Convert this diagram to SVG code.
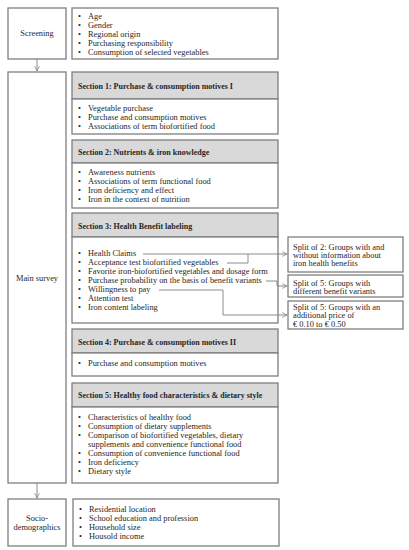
<svg xmlns="http://www.w3.org/2000/svg" width="409" height="550" viewBox="0 0 409 550">
<defs>
<style>
.box{fill:#fff;stroke:#7f7f7f;stroke-width:1.3}
.hdr{fill:#d9d9d9;stroke:#7f7f7f;stroke-width:1.3}
text{font-family:"Liberation Serif",serif;font-size:8.4px;fill:#262626}
.b{font-weight:bold;font-size:8px}
.m{text-anchor:middle}
.ln{fill:none;stroke:#7f7f7f;stroke-width:0.9}
</style>
<marker id="ah" viewBox="0 0 10 10" refX="9" refY="5" markerWidth="6" markerHeight="6" orient="auto" markerUnits="userSpaceOnUse">
<path d="M1,1 L9,5 L1,9" fill="none" stroke="#7f7f7f" stroke-width="1.2"/>
</marker>
</defs>
<rect width="409" height="550" fill="#fff"/>

<g id="screening">
<rect class="box" x="8" y="8" width="58" height="51"/>
<text class="m" x="37" y="36">Screening</text>
</g>
<g id="screening-items">
<rect class="box" x="72" y="8" width="206" height="51"/>
<text x="78" y="19">•</text><text x="88" y="19">Age</text>
<text x="78" y="28">•</text><text x="88" y="28">Gender</text>
<text x="78" y="37">•</text><text x="88" y="37">Regional origin</text>
<text x="78" y="46">•</text><text x="88" y="46">Purchasing responsibility</text>
<text x="78" y="55">•</text><text x="88" y="55">Consumption of selected vegetables</text>
</g>

<g id="main-survey">
<rect class="box" x="8" y="72" width="58" height="411"/>
<text class="m" x="37" y="281">Main survey</text>
</g>

<g id="section1">
<rect class="hdr" x="72" y="72" width="206" height="27"/>
<rect class="box" x="72" y="99" width="206" height="35"/>
<text class="b" x="78" y="89">Section 1: Purchase &amp; consumption motives I</text>
<text x="78" y="111">•</text><text x="88" y="111">Vegetable purchase</text>
<text x="78" y="120">•</text><text x="88" y="120">Purchase and consumption motives</text>
<text x="78" y="129">•</text><text x="88" y="129">Associations of term biofortified food</text>
</g>

<g id="section2">
<rect class="hdr" x="72" y="140" width="206" height="23"/>
<rect class="box" x="72" y="163" width="206" height="45"/>
<text class="b" x="78" y="155">Section 2: Nutrients &amp; iron knowledge</text>
<text x="78" y="175">•</text><text x="88" y="175">Awareness nutrients</text>
<text x="78" y="184">•</text><text x="88" y="184">Associations of term functional food</text>
<text x="78" y="193">•</text><text x="88" y="193">Iron deficiency and effect</text>
<text x="78" y="202">•</text><text x="88" y="202">Iron in the context of nutrition</text>
</g>

<g id="section3">
<rect class="hdr" x="72" y="213" width="206" height="24"/>
<rect class="box" x="72" y="237" width="206" height="86"/>
<text class="b" x="78" y="229">Section 3: Health Benefit labeling</text>
<text x="78" y="256">•</text><text x="88" y="256">Health Claims</text>
<text x="78" y="265">•</text><text x="88" y="265">Acceptance  test biofortified vegetables</text>
<text x="78" y="274">•</text><text x="88" y="274">Favorite iron-biofortified vegetables and dosage form</text>
<text x="78" y="283">•</text><text x="88" y="283">Purchase probability on the basis of benefit variants</text>
<text x="78" y="292">•</text><text x="88" y="292">Willingness to pay</text>
<text x="78" y="301">•</text><text x="88" y="301">Attention test</text>
<text x="78" y="310">•</text><text x="88" y="310">Iron content labeling</text>
</g>

<g id="section4">
<rect class="hdr" x="72" y="329" width="206" height="24"/>
<rect class="box" x="72" y="353" width="206" height="23"/>
<text class="b" x="78" y="345">Section 4: Purchase &amp; consumption motives II</text>
<text x="78" y="366">•</text><text x="88" y="366">Purchase and consumption motives</text>
</g>

<g id="section5">
<rect class="hdr" x="72" y="383" width="206" height="24"/>
<rect class="box" x="72" y="407" width="206" height="76"/>
<text class="b" x="78" y="398">Section 5: Healthy food characteristics &amp; dietary style</text>
<text x="78" y="420">•</text><text x="88" y="420">Characteristics of healthy food</text>
<text x="78" y="429">•</text><text x="88" y="429">Consumption of dietary supplements</text>
<text x="78" y="438">•</text><text x="88" y="438">Comparison of biofortified vegetables, dietary</text>
<text x="88" y="447">supplements and convenience functional food</text>
<text x="78" y="456">•</text><text x="88" y="456">Consumption of convenience functional food</text>
<text x="78" y="465">•</text><text x="88" y="465">Iron deficiency</text>
<text x="78" y="474">•</text><text x="88" y="474">Dietary style</text>
</g>

<g id="socio">
<rect class="box" x="8" y="499" width="58" height="47"/>
<text class="m" x="37" y="521">Socio-</text>
<text class="m" x="37" y="530">demographics</text>
</g>
<g id="socio-items">
<rect class="box" x="73" y="499" width="206" height="47"/>
<text x="79" y="512">•</text><text x="89" y="512">Residential location</text>
<text x="79" y="521">•</text><text x="89" y="521">School education and profession</text>
<text x="79" y="530">•</text><text x="89" y="530">Household size</text>
<text x="79" y="539">•</text><text x="89" y="539">Housold income</text>
</g>

<g id="split2">
<rect class="box" x="288" y="237" width="115" height="35"/>
<text x="293" y="250">Split of 2: Groups with and</text>
<text x="293" y="258">without information about</text>
<text x="293" y="266">iron health benefits</text>
</g>
<g id="split5a">
<rect class="box" x="288" y="275" width="115" height="22"/>
<text x="293" y="286">Split of 5: Groups with</text>
<text x="293" y="294">different benefit variants</text>
</g>
<g id="split5b">
<rect class="box" x="288" y="301" width="115" height="28"/>
<text x="293" y="310">Split of 5: Groups with an</text>
<text x="293" y="318">additional price of</text>
<text x="293" y="327">€ 0.10 to € 0.50</text>
</g>

<g id="connectors">
<line class="ln" x1="37" y1="59" x2="37" y2="71" marker-end="url(#ah)"/>
<line class="ln" x1="37" y1="483" x2="37" y2="498" marker-end="url(#ah)"/>
<path class="ln" d="M143,254 L287,254" marker-end="url(#ah)"/>
<path class="ln" d="M227,263 L248,263 L248,254"/>
<path class="ln" d="M266,281 L277,281 L277,286 L287,286" marker-end="url(#ah)"/>
<path class="ln" d="M159,290 L223,290 L223,315 L287,315" marker-end="url(#ah)"/>
</g>
</svg>
